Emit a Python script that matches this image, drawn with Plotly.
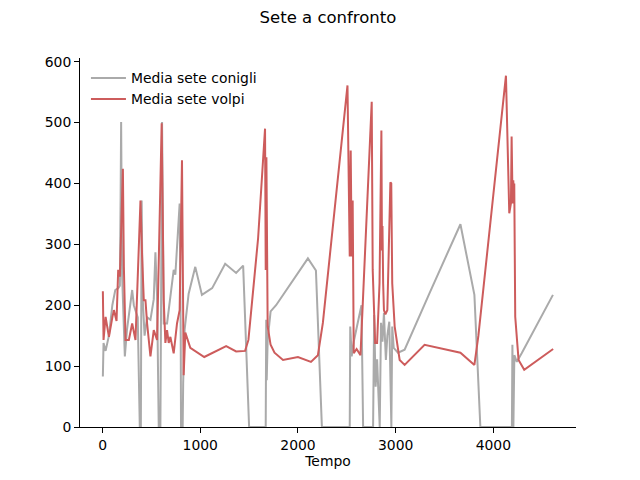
import plotly.graph_objects as go

# Tempo / sete media dei conigli
tempo_conigli = [3, 10, 31, 65, 100, 130, 160, 177, 185, 190, 200, 228, 250, 269, 303, 320, 337, 360,
                 381, 392, 400, 410, 430, 456, 490, 524, 541, 558, 575, 592, 609, 626, 660, 694, 728,
                 745, 755, 789, 800, 803, 820, 825, 840, 881, 949, 1017, 1122, 1255, 1367, 1439, 1500,
                 1670, 1675, 1680, 1690, 1720, 1776, 2102, 2184, 2245, 2530, 2535, 2550, 2571, 2650,
                 2667, 2769, 2780, 2795, 2810, 2837, 2850, 2865, 2880, 2900, 2915, 2935, 2956, 2965,
                 2980, 3024, 3092, 3347, 3663, 3806, 3867, 4190, 4195, 4205, 4215, 4240, 4290, 4610]
sete_conigli = [83, 138, 125, 150, 200, 225, 228, 232, 380, 501, 250, 116, 160, 181, 225, 200, 192, 180,
                0, 0, 372, 214, 150, 180, 176, 210, 287, 214, 0, 0, 501, 170, 170, 214, 258,
                250, 275, 367, 148, 0, 0, 72, 160, 219, 263, 217, 228, 268, 253, 265, 0,
                0, 176, 77, 143, 190, 200, 277, 257, 0, 0, 165, 116, 140, 200,
                0, 0, 184, 66, 111, 0, 171, 140, 187, 110, 150, 173, 0, 165,
                130, 122, 127, 220, 333, 217, 0, 0, 135, 0, 118, 107, 121, 217]

# Tempo / sete media delle volpi
tempo_volpi = [3, 10, 31, 65, 100, 116, 143, 160, 177, 194, 208, 218, 235, 269, 303, 337, 388, 405,
               422, 439, 456, 490, 524, 558, 592, 605, 626, 643, 660, 677, 694, 728, 762, 789, 813,
               830, 847, 898, 1041, 1265, 1367, 1459, 1493, 1592, 1663, 1670, 1677, 1683, 1690, 1720,
               1760, 1847, 2000, 2133, 2204, 2255, 2507, 2530, 2540, 2550, 2560, 2571, 2600, 2640,
               2755, 2765, 2790, 2810, 2835, 2854, 2860, 2865, 2872, 2880, 2895, 2915, 2946, 2955,
               2965, 2990, 3041, 3092, 3296, 3663, 3806, 3847, 4129, 4163, 4180, 4187, 4197, 4204,
               4210, 4214, 4224, 4258, 4316, 4612]
sete_volpi = [223, 143, 181, 148, 180, 192, 174, 258, 247, 361, 424, 263, 143, 143, 170, 143, 372, 280,
              208, 208, 170, 116, 159, 143, 367, 499, 208, 138, 159, 138, 148, 121, 170, 192, 438,
              85, 155, 130, 115, 133, 124, 125, 143, 310, 490, 258, 443, 258, 165, 135,
              122, 110, 115, 107, 118, 171, 561, 280, 454, 280, 372, 121, 128, 118,
              534, 258, 138, 138, 236, 487, 290, 330, 236, 192, 185, 192, 402, 400,
              236, 165, 110, 102, 135, 122, 102, 150, 577, 351, 367, 477, 367, 405,
              381, 400, 181, 110, 94, 128]

fig = go.Figure()
fig.add_trace(go.Scatter(x=tempo_conigli, y=sete_conigli, mode="lines",
                         name="Media sete conigli",
                         line=dict(color="#aaaaaa", width=2)))
fig.add_trace(go.Scatter(x=tempo_volpi, y=sete_volpi, mode="lines",
                         name="Media sete volpi",
                         line=dict(color="#cd5c5c", width=2)))

# the page body adds 8px on the left and top, so margins are reduced by 8
fig.update_layout(
    width=640, height=480,
    paper_bgcolor="white", plot_bgcolor="white",
    font=dict(family="DejaVu Sans", size=13.9, color="black"),
    title=dict(text="Sete a confronto", x=0.5, xanchor="center", y=0.992, yanchor="top",
               pad=dict(t=0, b=0), font=dict(size=16.5)),
    margin=dict(l=72, r=72, t=50, b=61),
    showlegend=True,
    legend=dict(x=0.012, y=0.988, xanchor="left", yanchor="top",
                bgcolor="rgba(0,0,0,0)", itemwidth=35, font=dict(size=13.9)),
    xaxis=dict(range=[-231, 4846], tickvals=[0, 1000, 2000, 3000, 4000],
               showgrid=False, zeroline=False, showline=True, linecolor="black", linewidth=1,
               ticks="outside", ticklen=5, tickcolor="black",
               title=dict(text="Tempo", font=dict(size=13.9), standoff=4)),
    yaxis=dict(range=[0, 606], tickvals=[0, 100, 200, 300, 400, 500, 600],
               showgrid=False, zeroline=False, showline=True, linecolor="black", linewidth=1,
               ticks="outside", ticklen=5, tickcolor="black"),
)

fig.write_html("out.html")
